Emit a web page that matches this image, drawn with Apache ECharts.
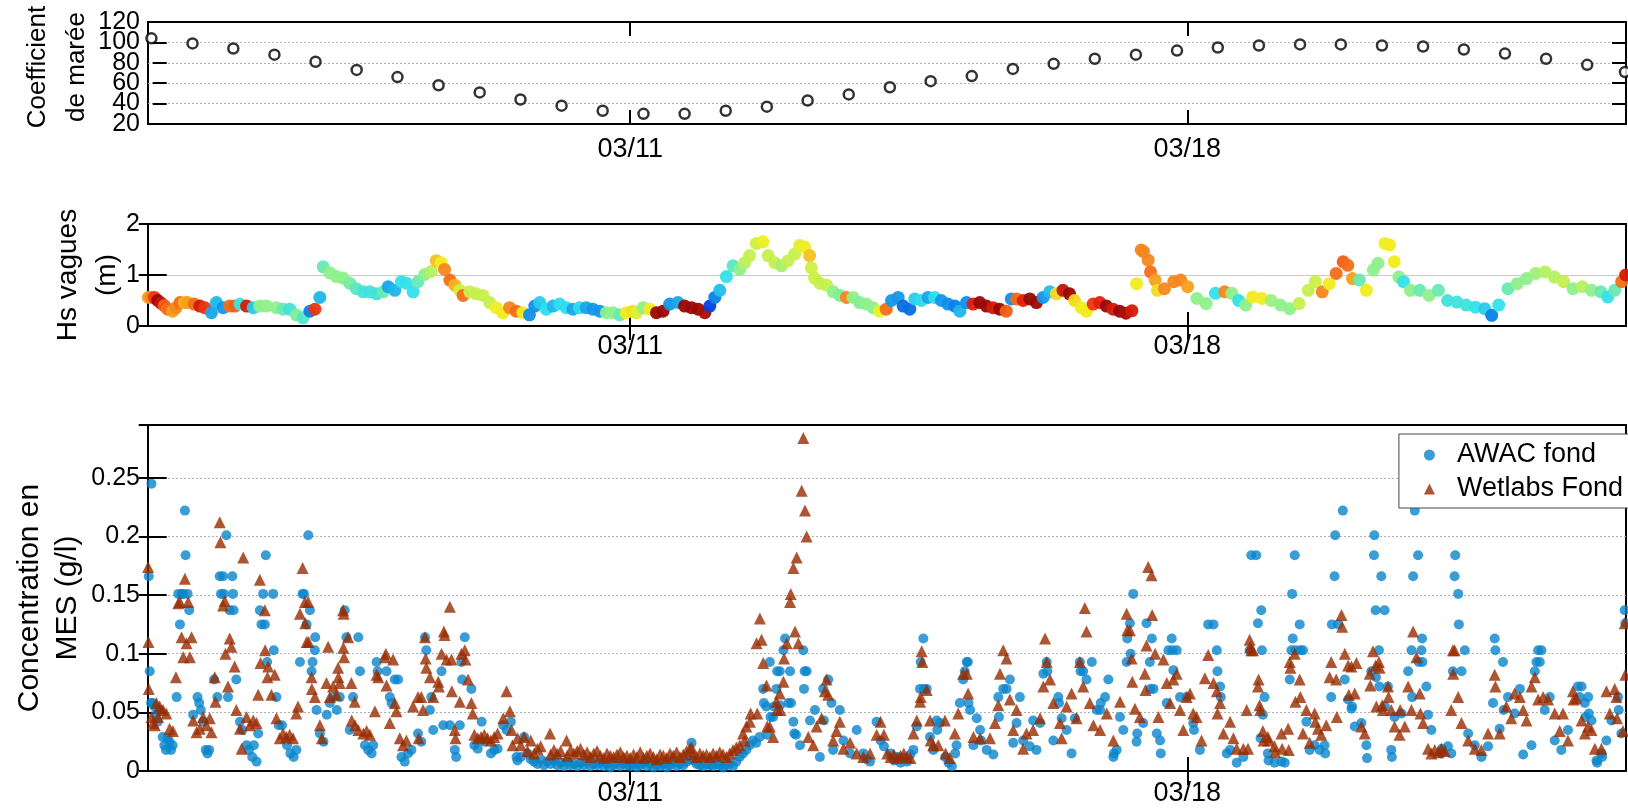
<!DOCTYPE html>
<html><head><meta charset="utf-8">
<script src="https://cdn.jsdelivr.net/npm/echarts@6/dist/echarts.min.js"></script>
<style>html,body{margin:0;padding:0;background:#fff}#c{width:1628px;height:811px}</style>
</head><body><div id="c"></div>
<script>
// x values: hours since 03/05 00:00
const xMinH = -1.43, xMaxH = 444.3;
const dateTicksH = [144, 312];
const dateLabels = ['03/11', '03/18'];

// Coefficient de marée (one per high tide)
const tideH = [-0.4,12.0,24.3,36.7,49.1,61.5,73.8,86.2,98.6,110.9,123.3,135.7,148.0,160.4,172.8,185.2,197.5,209.9,222.3,234.6,247.0,259.4,271.7,284.1,296.5,308.9,321.2,333.6,346.0,358.3,370.7,383.1,395.4,407.8,420.2,432.6,444.0];
const tideCoef = [104,99,94,88,81,73,66,58,51,44,38,33,30,30,33,37,43,49,56,62,67,74,79,84,88,92,95,97,98,98,97,96,93,89,84,78,71];
const tideTicksA = [20, 60, 100];
const tideTicksB = [40, 80, 120];

// Hs vagues: [hour, Hs (m), colour variable 0..1]
const hsVagues = [
[-1.3,0.56,0.72],[-0.5,0.56,0.75],[0.5,0.56,0.85],[1.5,0.5,0.97],[2.5,0.45,0.92],[3.5,0.4,0.8],[4.5,0.33,0.78],[6,0.29,0.72],[7,0.36,0.75],[8.2,0.46,0.78],[9.5,0.46,0.7],[10.5,0.46,0.72],[12.5,0.43,0.78],[14.2,0.39,0.9],[15.7,0.36,0.85],[17.7,0.26,0.3],[19.2,0.46,0.32],[21.2,0.36,0.28],[23.2,0.39,0.78],[24.8,0.39,0.8],[26.3,0.43,0.4],[28.3,0.39,0.9],[30.3,0.36,0.35],[32.3,0.39,0.5],[34.3,0.39,0.5],[37.3,0.36,0.5],[39.3,0.33,0.45],[41.3,0.33,0.4],[43.3,0.22,0.48],[45.3,0.16,0.42],[47.4,0.29,0.25],[48.9,0.33,0.85],[50.4,0.56,0.32],
[51.4,1.16,0.45],[53.4,1.04,0.5],[55.4,0.97,0.5],[57.4,0.94,0.5],[59.4,0.84,0.47],[61.4,0.73,0.43],[63.5,0.67,0.4],[65.5,0.67,0.4],[67.5,0.63,0.4],[69.5,0.67,0.45],[71,0.77,0.3],[73,0.7,0.32],[75,0.87,0.38],[76.5,0.84,0.38],[78.5,0.67,0.38],[80,0.87,0.45],[82,1.01,0.5],[84,1.07,0.55],[85.5,1.28,0.68],[87,1.24,0.63],[88,1.11,0.75],[89.6,0.9,0.78],[91.1,0.8,0.7],[92.6,0.7,0.58],[93.6,0.6,0.78],[95.6,0.67,0.57],[97.6,0.63,0.57],[99.6,0.6,0.57],[101.6,0.46,0.57],[103.6,0.36,0.62],[105.6,0.26,0.63],[107.6,0.36,0.75],[109.6,0.29,0.78],[111.6,0.26,0.63],[113.6,0.22,0.27],[115.2,0.39,0.27],[116.7,0.46,0.35],[118.7,0.33,0.37],[120.7,0.39,0.32],[122.7,0.43,0.37],[124.7,0.36,0.37],[126.7,0.33,0.3],[128.7,0.36,0.37],[130.7,0.36,0.3],[132.7,0.33,0.28],[134.8,0.29,0.28],[136.8,0.26,0.5],[138.8,0.26,0.5],[140.8,0.22,0.45],[142.8,0.26,0.63],[144.8,0.29,0.65],
[145.9,0.26,0.6],[147.9,0.36,0.5],[149.9,0.33,0.63],[151.9,0.26,0.97],[153.9,0.29,0.97],[155.9,0.43,0.28],[158.4,0.46,0.3],[160.4,0.39,0.97],[162.5,0.36,0.97],[164.5,0.33,0.97],[166.5,0.26,0.95],[168,0.39,0.15],[169.5,0.56,0.25],[171,0.7,0.33],[173,0.97,0.38],[175,1.18,0.43],[177,1.11,0.5],[178.5,1.24,0.55],[180,1.38,0.57],[182,1.62,0.58],[184,1.65,0.62],[185.6,1.38,0.57],[187.6,1.24,0.57],[189.6,1.18,0.53],[191.6,1.28,0.57],[193.6,1.41,0.57],[195.1,1.58,0.6],[196.6,1.55,0.62],[198.1,1.38,0.68],[198.6,1.14,0.58],[199.6,0.94,0.58],[201.2,0.84,0.57],[203.2,0.8,0.57],[205.2,0.67,0.5],[207.2,0.6,0.48],[209.2,0.56,0.75],[211.2,0.56,0.5],[213.2,0.46,0.48],[215.2,0.43,0.5],[217.2,0.36,0.5],[219.2,0.29,0.62],[221.2,0.33,0.78],[222.8,0.5,0.28],[224.8,0.56,0.28],[226.3,0.39,0.22],[228.3,0.33,0.22],[229.8,0.53,0.35],[231.8,0.5,0.37],[233.8,0.56,0.3],[235.8,0.56,0.37],[237.8,0.5,0.28],[239.8,0.43,0.27],[241.9,0.39,0.25],[243.4,0.29,0.32],[245.4,0.46,0.27],[247.4,0.43,0.88],[249.4,0.46,0.97],[251.4,0.39,0.97],[253.4,0.36,0.9],[255.4,0.33,0.97],[257.4,0.29,0.8],[258.9,0.53,0.27],[260.5,0.53,0.78],[262.5,0.5,0.88],[264.5,0.53,0.97],[266.5,0.46,0.97],[268.5,0.56,0.28],[270.5,0.67,0.33],[272.5,0.63,0.65],[274.5,0.7,0.92],[276.5,0.63,0.97],[278,0.5,0.65],[280,0.36,0.63],[281.6,0.29,0.63],[283.6,0.43,0.85],[285.6,0.46,0.88],[287.6,0.39,0.97],[289.6,0.33,0.9],[291.6,0.29,0.97],
[293.5,0.25,0.95],[295.3,0.3,0.9],[296.7,0.83,0.63],[298.1,1.49,0.75],[298.8,1.46,0.75],[300.2,1.29,0.75],[300.9,1.06,0.78],[302.3,0.9,0.72],[303,0.7,0.65],[305.1,0.73,0.75],[307.9,0.87,0.75],[310,0.9,0.75],[312.1,0.77,0.72],[314.9,0.54,0.5],[317.7,0.44,0.5],[320.5,0.64,0.38],[323.3,0.67,0.75],[325.4,0.64,0.5],[327.5,0.5,0.38],[329.6,0.41,0.5],[331.7,0.57,0.63],[334.5,0.54,0.63],[337.3,0.5,0.52],[340.1,0.41,0.5],[342.9,0.34,0.5],[345.7,0.44,0.57],[348.5,0.7,0.57],[350.6,0.87,0.58],[352.7,0.67,0.75],[354.8,0.83,0.63],[356.9,1.03,0.78],[359,1.26,0.8],[360.4,1.19,0.78],[361.8,0.93,0.72],[363.9,0.9,0.45],[366,0.7,0.63],[368.1,1.1,0.5],[369.5,1.23,0.5],[371.6,1.62,0.62],[373,1.59,0.63],[374.4,1.26,0.63],[375.8,0.96,0.5],[377.2,0.87,0.38],[379.3,0.7,0.5],[382.1,0.7,0.45],[384.9,0.6,0.5],[387.7,0.7,0.45],[390.5,0.5,0.4],[393.3,0.47,0.4],[396.1,0.41,0.4],[398.9,0.37,0.38],[401.7,0.34,0.35],[403.8,0.21,0.25],[405.9,0.41,0.38],[408.7,0.73,0.45],[411.5,0.83,0.5],[414.3,0.93,0.5],[417.1,1.03,0.52],[419.9,1.06,0.55],[422.7,0.96,0.55],[425.5,0.87,0.57],[428.3,0.73,0.5],[431.1,0.77,0.55],[433.9,0.7,0.5],[436.7,0.67,0.45],[438.8,0.57,0.38],[440.9,0.7,0.45],[443,0.87,0.78],[444.2,1.0,0.9]
];

// Concentration en MES: [hour, mg/l]
const awacFond = [
[-0.4,245],[-1.2,166],[-0.9,85],[-0.5,58],[0,58],[0.5,55],[1,48],[1.5,42],[2,52],[3,29],[3.5,22],[4,18],[4.5,28],[5,25],[5.5,18],[6,22],[7.2,63],[7.7,151],[8.2,125],[8.7,151],[9.2,151],[9.7,222],[9.9,184],[10.5,151],[11,137],[12.2,48],[13.5,63],[14,58],[14.5,52],[15.2,42],[16,18],[16.5,15],[17,18],[18.5,78],[19.5,63],[20.2,166],[20.6,151],[21.2,166],[21.4,151],[22.2,201],[22.7,63],[23.2,137],[24,166],[24.2,151],[24.4,137],[25.2,78],[26.3,42],[27,35],[28.3,22],[29,18],[30,12],[30.5,22],[31.3,8],[31.8,32],[32.3,137],[32.8,125],[33.3,151],[33.8,125],[34.1,184],[34.5,93],[36.3,151],[36.5,103],[37.3,63],[38,39],[39,39],[40.5,22],[41.5,15],[42.5,12],[43.3,18],[44.4,93],[45.2,151],[45.6,151],[46.4,125],[46.9,201],[47.4,137],[47.9,85],[48.2,93],[48.9,103],[49,114],[49.4,52],[50.4,32],[51.5,25],[52.5,48],[53.4,58],[54.5,63],[55.5,52],[56.4,63],[57.9,137],[58.4,114],[59.4,35],[60.4,63],[62,114],[62.5,85],[64,22],[65,18],[66,15],[66.5,22],[67.5,93],[67.8,85],[70.5,85],[71.5,63],[72,58],[73,78],[74,78],[75,12],[76,8],[77,15],[78,18],[80,32],[81,25],[82.1,114],[82.5,103],[83.6,52],[84,63],[84.6,35],[87.1,85],[87.6,39],[89.6,39],[91.1,18],[91.5,12],[92.6,39],[93.1,93],[93.3,78],[94.1,114],[96.1,70],[97,22],[98,19],[99.2,42],[100,25],[102,15],[103,18],[104,19],[105.7,39],[106.7,35],[108,42],[109.7,12],
[110,9],[111,12],[112,29],[113,15],[114,10],[115,8],[116,6],[117,10],[118,5],[119,8],[120,6],[121,9],[122,5],[123,7],[124,4],[125,8],[126,5],[127,6],[128,4],[129,7],[130,5],[131,8],[132,4],[133,6],[134,5],[135,7],[136,4],[137,6],[138,3],[139,5],[140,7],[141,4],[142,6],[143,5],[144,4],[145,6],[146,3],[147,5],[148,7],[149,4],[150,6],[151,3],[152,5],[153,4],[154,6],[155,3],[156,5],[157,7],[158,4],[159,6],[160,5],[161,8],[162,10],[162.5,24],[163,9],[164,6],[165,5],[166,4],[167,6],[168,5],[169,4],[170,6],[171,5],[172,3],[173,5],[174,6],[175,4],[176,8],[177,12],[178,15],[179,18],[180,22],[181,26],[182,24],[183,29],[184.1,70],[184.3,58],[185,55],[185.3,31],[186.1,93],[186.3,46],[187.1,46],[187.3,55],[188.1,70],[188.3,85],[189.1,85],[189.2,56],[190.2,103],[190.7,113],[191.7,58],[192.2,85],[192.5,58],[193.2,42],[193.5,32],[194,31],[195.2,22],[196.2,103],[196.4,70],[196.6,85],[197.2,85],[198.2,43],[199.7,52],[201.2,12],[202.2,70],[202.4,43],[203.7,78],[204.7,58],[205.2,18],[207.2,52],[208.3,26],[210.3,15],[212.3,35],[214.3,15],[215.3,10],[216.3,8],[218.3,42],
[219.5,26],[220.5,21],[222.5,15],[223.5,9],[224.5,12],[225.5,7],[226.5,11],[227.5,8],[228.5,14],[229.4,18],[230.4,38],[231.4,70],[231.6,93],[232.4,113],[232.6,70],[233.4,70],[234.4,29],[235.4,18],[236.4,43],[236.6,35],[237.4,41],[239,12],[240,7],[241,4],[242,15],[242.4,22],[243.4,58],[244.4,78],[244.9,85],[245.5,93],[245.8,93],[246,58],[246.5,52],[247.5,22],[248.5,45],[249.5,35],[249.8,26],[251.5,18],[253.5,14],[255,63],[255.2,46],[256.5,70],[257.5,70],[258.5,78],[259.5,24],[260.5,41],[261.5,63],[262.5,26],[264.5,21],[265.5,43],[266.5,18],[267.6,41],[268.6,83],[269.6,93],[269.8,85],[271.6,26],[273.1,63],[273.3,58],[274.1,45],[275.6,35],[277.1,15],[278.1,45],[279.6,93],[279.8,85],[280.6,85],[281.6,78],[283.2,93],[284.7,52],[285.7,52],[285.9,58],[287.2,63],[288.2,78],[289.7,12],[289.9,15],[290.7,18],[291.7,46],[292.7,35],[293.7,93],[293.9,113],[294.7,126],[294.9,100],[295.7,151],[296.7,25],[296.9,32],[298.7,41],[299.7,126],[300.7,93],[300.9,70],[301.3,113],[301.8,70],[302.8,32],[303.8,26],[304,15],[305.8,58],[306.3,103],[307.3,113],[307.5,103],[307.8,86],[308.8,103],[309.8,63],[311.8,63],[313.8,41],[314,35],[315.8,18],[318.3,125],[319.9,125],[320.9,103],[321.1,85],[321.9,72],[322.1,63],[323.9,15],[324.9,18],[326.9,7],[328.9,12],
[330.8,103],[331.3,184],[332.8,184],[333.3,126],[334.3,137],[334.5,103],[334.8,48],[335.3,63],[334.1,28],[336.3,15],[336.5,9],[338.3,7],[340.4,8],[341.4,7],[342.9,78],[343.4,103],[343.6,151],[343.8,113],[344.4,184],[344.6,103],[345.9,125],[346.1,103],[346.9,103],[347.9,42],[348.9,18],[350.4,22],[351.9,18],[353.4,22],[353.6,15],[355.4,63],[355.6,125],[356.4,166],[356.6,201],[357.5,125],[358.9,222],[359.5,78],[360.5,61],[361.5,53],[361.7,55],[362.5,38],[364.5,41],[366,22],[366.2,11],[367.5,85],[368.3,184],[368.4,201],[368.8,137],[368.9,80],[369.8,103],[369.9,72],[370.5,166],[371.5,137],[371.6,55],[372.5,72],[373.5,18],[373.7,12],[374.5,46],[376.6,49],[378.6,85],[379.6,103],[379.8,63],[380.1,166],[380.6,222],[381.6,184],[381.8,93],[382.6,103],[382.8,113],[382.9,93],[384.1,72],[384.6,48],[385.6,35],[388.6,15],[388.8,19],[390.6,21],[391.6,15],[392.1,85],[392.6,166],[392.8,184],[393.7,151],[393.9,125],[394.7,85],[395.7,103],[396.7,32],[398.7,22],[400.7,12],[402.7,21],[404.2,58],[404.7,113],[404.9,103],[406.2,36],[407.2,93],[407.4,52],[408.7,63],[410.7,49],[412.3,70],[413.3,14],[415.8,22],[416.8,85],[417.3,93],[417.8,103],[418.3,93],[418.8,103],[419.8,52],[421.3,63],[422.8,26],[424.8,18],[426.8,35],[429.8,72],[430.3,63],[430.9,72],[431.9,58],[432.1,46],[432.9,63],[433.1,49],[433.9,43],[435.4,9],[435.6,7],[436.9,15],[437.1,12],[438.4,26],[439.9,43],[441.9,63],[442.1,52],[442.9,32],[443.9,137],[444.1,126]
];

const wetlabsFond = [
[-1.4,174],[-1.3,110],[-1.2,70],[-0.4,46],[0.1,41],[0.6,39],[1.1,58],[1.6,46],[2.1,55],[3.1,52],[4.1,49],[5.1,36],[6.1,34],[7,80],[7.7,143],[8.2,144],[8.7,114],[9.2,97],[9.7,164],[10.2,109],[10.7,144],[11.2,97],[11.7,114],[12.2,43],[13.2,33],[14.2,36],[15.2,46],[16.2,39],[17.2,45],[17.7,33],[18.7,80],[18.9,59],[20.2,212],[20.4,195],[21.2,141],[21.7,145],[21.9,100],[22.7,72],[23.2,113],[23.7,106],[24.7,89],[25.2,52],[26.3,36],[26.8,19],[27.3,182],[28.3,46],[29.3,39],[30.3,43],[31.3,41],[31.8,65],[32.3,163],[32.5,92],[33.8,137],[33.9,103],[34.8,89],[34.6,80],[35.8,65],[36.8,82],[37.3,45],[38.3,28],[39.3,32],[40.3,29],[41.3,31],[42.3,28],[43.3,49],[43.8,55],[44.4,134],[45.2,173],[45.9,144],[46.0,126],[46.4,110],[46.9,144],[47.0,110],[47.9,80],[48.0,70],[48.9,63],[50.4,39],[51,28],[52.4,75],[52.9,106],[53.4,63],[54.4,72],[55.4,65],[55.9,88],[56.0,80],[56.4,75],[57.4,137],[57.6,134],[57.5,105],[57.7,97],[58.9,114],[59.9,75],[60.9,59],[60,43],[61,39],[62,35],[63.5,32],[64.5,34],[65.5,31],[67,51],[67.5,82],[68,80],[70,97],[70.3,100],[70.5,73],[71.5,41],[72.5,95],[73,58],[73.5,51],[74.5,28],[75.5,22],[76.5,26],[78.5,55],[80,63],[80.2,28],[81,63],[81.5,52],[82.1,114],[82.3,96],[82.5,88],[83.6,80],[84.6,63],[86.1,76],[86.3,72],[87.1,100],[87.8,119],[88,116],[88.6,95],[89.6,140],[90.1,95],[90.2,68],[91.1,35],[91.3,28],[92.6,59],[93.1,100],[94.1,103],[94.3,95],[95.1,78],[96.1,58],[96.5,49],[97,31],[98,28],[99,29],[100,31],[101,28],[102,26],[103,29],[104,32],[105.7,45],[106.7,68],[107.7,51],[108.2,35],[108.5,22],
[110,28],[111,22],[112,29],[113,17],[114,26],[115,15],[116,19],[117,21],[119.8,32],[120,14],[121,18],[122,15],[123,17],[124.8,26],[125,13],[126,18],[127,15],[128,17],[129,19],[130,14],[131,16],[132,12],[133,15],[134,17],[135,13],[136,11],[137,15],[138,13],[139,12],[140,14],[141,16],[142,12],[143,13],[144,11],[145,14],[146,12],[147,16],[148,11],[149,13],[150,15],[151,12],[152,10],[153,14],[154,13],[155,11],[156,15],[157,13],[158,16],[159,12],[160,14],[161,17],[162,19],[162.5,20],[163,14],[164,12],[165,15],[166,13],[167,14],[168,12],[169,15],[170,13],[171,16],[172,14],[173,12],[174,15],[175,18],[176,20],[177,22],[178,32],[178.5,26],[179,38],[180.1,42],[180.3,49],[182.1,109],[182.3,49],[183.1,130],[183.6,112],[184.1,92],[185.1,73],[185.3,38],[186.1,38],[187.1,29],[188.1,59],[188.3,52],[189.1,66],[189.3,52],[190.2,76],[190.4,96],[191.2,109],[192.2,144],[192.4,151],[193.2,173],[193.7,119],[194.2,182],[194.7,109],[195.7,239],[196.2,284],[196.7,222],[197.2,200],[197.7,29],[199.2,22],[200.2,38],[201.7,45],[202.7,68],[203.2,78],[203.7,65],[205.2,26],[206.2,34],[207.2,42],[208.3,19],[210.3,24],[212.3,15],[214.3,12],[216.3,15],[218.3,31],
[219.5,42],[220.5,31],[221.5,15],[222.5,12],[223.5,14],[224.5,11],[225.5,13],[226.5,15],[227.5,12],[228.5,11],[229.4,32],[230.4,43],[231.4,59],[231.6,63],[231.9,102],[232.1,93],[233.4,69],[234.4,43],[234.6,26],[235.4,22],[236.9,22],[238.9,43],[239.1,15],[240.4,11],[241.9,32],[242.9,49],[244.4,83],[245.5,83],[245.9,66],[247.5,29],[249.5,28],[252.5,28],[254,41],[255,56],[255.5,83],[256.5,103],[257.5,96],[258.5,61],[259.5,35],[260.5,52],[262.5,19],[263.5,32],[265.5,35],[267.6,45],[268.6,72],[269.1,113],[269.6,93],[270.6,78],[271.6,58],[273.6,41],[274.1,28],[275.6,55],[277.1,66],[278.6,45],[279.6,93],[280.6,72],[281.1,139],[281.6,119],[282.6,58],[283.7,39],[285.7,35],[287.7,49],[289.7,26],[291.7,59],[293.7,134],[293.9,120],[294.7,120],[295.2,96],[295.4,76],[296.2,53],[297.7,46],[299.2,83],[299.4,69],[299.7,107],[300.2,174],[301.2,167],[301.4,133],[302.3,100],[303.3,46],[304.8,95],[305.8,75],[306.8,58],[307.8,78],[308.8,83],[309.8,52],[310.8,35],[311.8,63],[312.8,66],[313.8,49],[314.8,46],[316.3,26],[317.3,79],[318.3,99],[319.9,75],[320.9,68],[321.1,49],[321.9,58],[322.9,32],[324.9,42],[325.9,28],[326.9,19],[328.9,19],[329.9,52],
[330.3,19],[330.8,112],[331,106],[331.3,103],[331.8,103],[333.3,72],[333.5,78],[333.8,56],[334,52],[334.8,34],[335,26],[336.3,29],[336.5,26],[338.3,21],[338.5,16],[340.4,32],[340.6,19],[342.4,36],[342.6,18],[342.9,93],[343.1,88],[344.4,100],[344.6,59],[345.9,78],[346.1,63],[346.9,32],[347.9,52],[348.9,24],[350.4,49],[350.6,42],[351.4,36],[352.4,31],[353.9,39],[354.9,80],[355.4,93],[356.9,78],[357.1,46],[358.5,133],[358.7,123],[359.5,100],[360.5,90],[360.7,65],[361.5,89],[362.5,66],[363,92],[364.5,38],[365.5,32],[367,83],[367.2,73],[368,102],[368.8,90],[369,55],[369.8,93],[370,88],[370.8,56],[371,52],[372.5,72],[372.7,63],[373.5,52],[374.5,38],[376,31],[376.2,52],[377.6,38],[378.6,72],[379.6,52],[380.1,119],[381.1,97],[382.1,66],[382.3,49],[383.1,41],[384.6,19],[385.6,15],[386.6,18],[387.6,16],[388.6,19],[389.6,17],[391.6,52],[392.1,103],[392.2,83],[392.6,103],[393.7,63],[394.7,41],[396.7,26],[398.7,19],[400.7,18],[402.7,32],[404.7,82],[404.9,72],[406.2,32],[408.2,55],[409.7,45],[410.7,66],[412.3,63],[413.3,52],[414.3,43],[415.8,72],[416.8,80],[417.8,61],[419.3,63],[420.8,61],[422.8,49],[424.3,34],[425.3,49],[426.8,26],[428.3,68],[428.5,61],[429.3,62],[430.9,43],[431.9,32],[432.9,38],[433.9,35],[434.9,19],[436.9,19],[438.4,68],[439.4,49],[440.9,70],[441.4,63],[441.6,45],[443.4,34],[443.9,126],[444.1,82]
];

const FONT = "'Liberation Sans', Arial, Helvetica, sans-serif";
const jet = ['#00008f','#0030e0','#0a80e8','#2ee0ee','#8ef08a','#f2ef1e','#f7871c','#e8200c','#820000'];

const grids = [
  {left:148, top:22, width:1478, height:102},
  {left:148, top:224, width:1478, height:102},
  {left:148, top:425, width:1478, height:346}
];
const tickStyle = {color:'#000', width:2};
const labelBase = {margin:8, fontSize:25, color:'#000', fontFamily:FONT, hideOverlap:false};

function xAxesFor(gi, margin, gridType) {
  const base = {type:'value', gridIndex:gi, min:xMinH, max:xMaxH, axisLine:{show:false}};
  const tick = {show:true, inside:true, length:14, customValues:dateTicksH, lineStyle:tickStyle};
  return [
    Object.assign({}, base, {
      position:'bottom', axisTick:tick,
      axisLabel:{show:true, customValues:dateTicksH, margin:margin, fontSize:27, color:'#000', fontFamily:FONT,
        formatter: v => { const i = dateTicksH.indexOf(v); return i >= 0 ? dateLabels[i] : ''; }},
      splitLine:{show:true, showMinLine:false, showMaxLine:false,
        lineStyle:{type: gridType, color: gridType === 'solid' ? '#c8c8c8' : '#b0b0b0', width:1}}
    }),
    Object.assign({}, base, {position:'top', axisTick:tick, axisLabel:{show:false}, splitLine:{show:false}})
  ];
}
function gridLine(gridType) {
  return {show:true, showMinLine:false, showMaxLine:false,
    lineStyle:{type: gridType, color: gridType === 'solid' ? '#c8c8c8' : '#b0b0b0', width:1}};
}
function nameOpts(name, nameGap, size, lh, pad) {
  return {name:name, nameLocation:'middle', nameRotate:90, nameGap:nameGap, nameMoveOverlap:false,
    nameTextStyle:{fontSize:size, lineHeight:lh, color:'#000', fontFamily:FONT, padding:pad}};
}
const tick = {show:true, inside:true, length:14, lineStyle:tickStyle};

// Panel 1: labels split across two overlaid left axes so none is dropped
const yAxesTide = [
  Object.assign({type:'value', gridIndex:0, min:20, max:120, interval:20, position:'left', axisLine:{show:false},
    axisTick:tick, axisLabel:Object.assign({customValues:tideTicksA}, labelBase),
    splitLine:gridLine([2,2])}, nameOpts('Coefficient\nde marée', 52, 26, 39, [0,0,0,12])),
  {type:'value', gridIndex:0, min:20, max:120, interval:20, position:'left', offset:0, axisLine:{show:false},
    axisTick:{show:false}, axisLabel:Object.assign({customValues:tideTicksB}, labelBase), splitLine:{show:false}},
  {type:'value', gridIndex:0, min:20, max:120, interval:20, position:'right', axisLine:{show:false},
    axisTick:tick, axisLabel:{show:false}, splitLine:{show:false}}
];
const yAxesHs = [
  Object.assign({type:'value', gridIndex:1, min:0, max:2, interval:1, position:'left', axisLine:{show:false},
    axisTick:tick, axisLabel:Object.assign({showMinLabel:true, showMaxLabel:true}, labelBase),
    splitLine:gridLine('solid')}, nameOpts('Hs vagues\n(m)', 21, 28, 39, 0)),
  {type:'value', gridIndex:1, min:0, max:2, interval:1, position:'right', axisLine:{show:false},
    axisTick:tick, axisLabel:{show:false}, splitLine:{show:false}}
];
const yAxesMes = [
  Object.assign({type:'value', gridIndex:2, min:0, max:0.295, interval:0.05, position:'left', axisLine:{show:false},
    axisTick:tick, axisLabel:Object.assign({showMinLabel:true, showMaxLabel:false}, labelBase),
    splitLine:gridLine([2,2])}, nameOpts('Concentration en\nMES (g/l)', 61, 30, 38, 0)),
  {type:'value', gridIndex:2, min:0, max:0.295, interval:0.05, position:'right', axisLine:{show:false},
    axisTick:tick, axisLabel:{show:false}, splitLine:{show:false}}
];

const option = {
  animation:false,
  backgroundColor:'#fff',
  grid: grids.map(g => Object.assign({}, g, {show:true, borderColor:'#000', borderWidth:2, backgroundColor:'rgba(0,0,0,0)'})),
  xAxis: [].concat(xAxesFor(0, 12, [2,2]), xAxesFor(1, 7, 'solid'), xAxesFor(2, 9, [2,2])),
  yAxis: [].concat(yAxesTide, yAxesHs, yAxesMes),
  visualMap: {show:false, type:'continuous', min:0, max:1, dimension:2, seriesIndex:1, inRange:{color:jet}},
  legend: {
    data:['AWAC fond','Wetlabs Fond'], orient:'vertical', right:-40, top:434,
    padding:[6,45,4,25], itemGap:4, itemWidth:11, itemHeight:11,
    backgroundColor:'#fff', borderColor:'#444', borderWidth:1, borderRadius:0,
    formatter: n => '{t|' + n + '}',
    textStyle:{fontSize:27, lineHeight:30, color:'#000', fontFamily:FONT,
      rich:{t:{fontSize:27, lineHeight:30, color:'#000', fontFamily:FONT, padding:[0,0,0,17]}}}
  },
  series: [
    {name:'Coefficient', type:'scatter', xAxisIndex:0, yAxisIndex:0,
     data: tideH.map((h,i) => [h, tideCoef[i]]),
     symbol:'circle', symbolSize:10, itemStyle:{color:'#fff', borderColor:'#000', borderWidth:2.5}},
    {name:'Hs', type:'scatter', xAxisIndex:2, yAxisIndex:3, data:hsVagues,
     encode:{x:0, y:1}, symbolSize:13, itemStyle:{opacity:0.95}},
    {name:'AWAC fond', type:'scatter', xAxisIndex:4, yAxisIndex:5,
     data: awacFond.map(p => [p[0], p[1]/1000]), symbol:'circle', symbolSize:10,
     itemStyle:{color:'#0a84cc'}},
    {name:'Wetlabs Fond', type:'scatter', xAxisIndex:4, yAxisIndex:5,
     data: wetlabsFond.map(p => [p[0], p[1]/1000]), symbol:'triangle', symbolSize:12,
     itemStyle:{color:'#982c00'}}
  ]
};
const chart = echarts.init(document.getElementById('c'), null, {renderer:'canvas'});
chart.setOption(option);
</script>
</body></html>
